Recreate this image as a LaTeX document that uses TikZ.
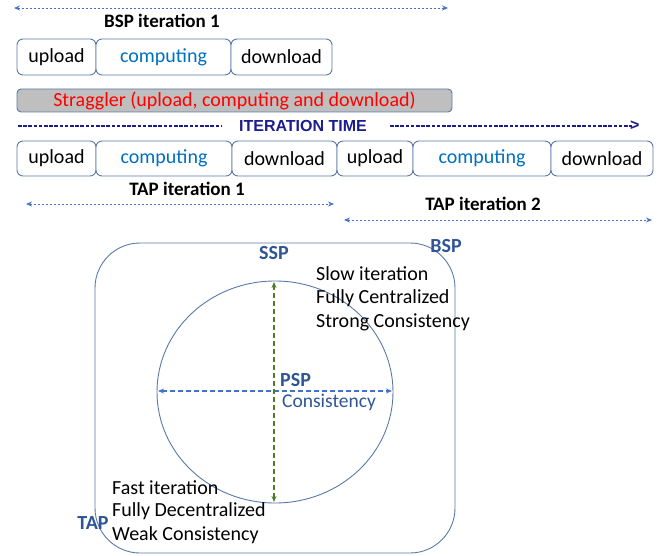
\documentclass[tikz,border=0pt]{standalone}
\usepackage{fontspec}
\setmainfont{Carlito}
\newfontfamily\arialfont{Liberation Sans}
\usetikzlibrary{arrows.meta}
\definecolor{boxline}{HTML}{5B79A8}
\definecolor{compblue}{HTML}{0070C0}
\definecolor{lblblue}{HTML}{2F5597}
\definecolor{arrblue}{HTML}{4472C4}
\definecolor{navy}{HTML}{1C1C8C}
\definecolor{dgreen}{HTML}{4E7A2B}
\definecolor{strfill}{HTML}{BFBFBF}
\tikzset{
  x=1pt, y=-1pt,
  phase/.style={draw=boxline, line width=0.9pt, rounded corners=6pt, fill=white,
    inner sep=0pt, font=\fontsize{20}{24}\selectfont, text=black},
  comp/.style={phase, text=compblue},
  iterlbl/.style={font=\fontsize{19}{22}\selectfont\bfseries, text=black},
  spanarrow/.style={draw=arrblue, line width=0.8pt, dash pattern=on 2.5pt off 1.5pt,
    {Stealth[length=6pt,width=5pt]}-{Stealth[length=6pt,width=5pt]}},
  bluelbl/.style={font=\fontsize{20}{22}\selectfont\bfseries, text=lblblue},
  desc/.style={font=\fontsize{20}{24}\selectfont, text=black, anchor=west, inner sep=0pt},
  timedash/.style={draw=navy, line width=2pt, dash pattern=on 3.6pt off 1.6pt},
}
\begin{document}
\begin{tikzpicture}
\useasboundingbox (0,0) rectangle (672,556);
% top BSP span
\coordinate (bspL) at (14,8);
\coordinate (bspR) at (448,8);
\draw[spanarrow] (bspL) -- (bspR);
\node[iterlbl] (bsplbl) at (162,21) {BSP iteration 1};
% row 1
\node[phase, minimum width=79pt, minimum height=36pt] (u1) at (56.5,57) {upload};
\node[comp, minimum width=135pt, minimum height=36pt] (c1) at (163.5,57) {computing};
\node[phase, minimum width=101pt, minimum height=36pt] (d1) at (281.5,57) {download};
% straggler
\node[draw=boxline, line width=0.9pt, rounded corners=4pt, fill=strfill,
  minimum width=435pt, minimum height=23pt, inner sep=0pt,
  font=\fontsize{20}{24}\selectfont, text=red] (strag) at (234.5,100.5)
  {Straggler (upload, computing and download)};
% iteration time
\coordinate (t1a) at (18,126);
\coordinate (t1b) at (222,126);
\coordinate (t2a) at (390,126);
\coordinate (t2b) at (632,126);
\draw[timedash] (t1a) -- (t1b);
\draw[timedash] (t2a) -- (t2b);
\node[font=\arialfont\fontsize{16}{18}\selectfont\bfseries, text=navy] (itt) at (303,126) {ITERATION TIME};
\node[font=\arialfont\fontsize{16}{18}\selectfont\bfseries, text=navy, inner sep=0pt, anchor=west] (gt) at (630,125.5) {>};
% row 2
\node[phase, minimum width=79pt, minimum height=35pt] (u2) at (56.5,158.5) {upload};
\node[comp, minimum width=136pt, minimum height=35pt] (c2) at (164,158.5) {computing};
\node[phase, minimum width=105pt, minimum height=35pt] (d2) at (284.5,158.5) {download};
\node[phase, minimum width=76pt, minimum height=35pt] (u3) at (375,158.5) {upload};
\node[comp, minimum width=138pt, minimum height=35pt] (c3) at (482,158.5) {computing};
\node[phase, minimum width=102pt, minimum height=35pt] (d3) at (602,158.5) {download};
% TAP spans
\node[iterlbl] (tap1) at (187,189) {TAP iteration 1};
\coordinate (tap1L) at (26,204);
\coordinate (tap1R) at (334,204);
\draw[spanarrow] (tap1L) -- (tap1R);
\node[iterlbl] (tap2) at (483,204) {TAP iteration 2};
\coordinate (tap2L) at (344,220);
\coordinate (tap2R) at (652,220);
\draw[spanarrow] (tap2L) -- (tap2R);
% bottom diagram
\draw[draw=boxline, line width=0.9pt, rounded corners=45pt] (95,243) rectangle (455,553);
\draw[draw=boxline, line width=0.9pt] (275,392) ellipse [x radius=118pt, y radius=111pt];
\coordinate (vt) at (274,282);
\coordinate (vb) at (274,502);
\coordinate (hl) at (158,391);
\coordinate (hr) at (392,391);
\draw[draw=arrblue, line width=1.1pt, dash pattern=on 5pt off 3pt,
  {Stealth[length=6pt,width=5pt]}-{Stealth[length=6pt,width=5pt]}] (hl) -- (hr);
\draw[draw=dgreen, line width=1.1pt, dash pattern=on 5pt off 3pt,
  {Stealth[length=6pt,width=5pt]}-{Stealth[length=6pt,width=5pt]}] (vb) -- (vt);
\node[bluelbl] (ssp) at (274,253) {SSP};
\node[bluelbl] (bsp) at (446,246) {BSP};
\node[bluelbl, anchor=west, inner sep=0pt] (psp) at (280,380) {PSP};
\node[font=\fontsize{19.5}{22}\selectfont, text=lblblue, anchor=west, inner sep=0pt] (cons) at (282,402) {Consistency};
\node[bluelbl] (tap) at (93,523) {TAP};
\node[desc] (s1) at (316,274) {Slow iteration};
\node[desc] (s2) at (316,298) {Fully Centralized};
\node[desc] (s3) at (316,322) {Strong Consistency};
\node[desc] (f1) at (112,488) {Fast iteration};
\node[desc] (f2) at (112,511) {Fully Decentralized};
\node[desc] (f3) at (112,535) {Weak Consistency};
\end{tikzpicture}
\end{document}
